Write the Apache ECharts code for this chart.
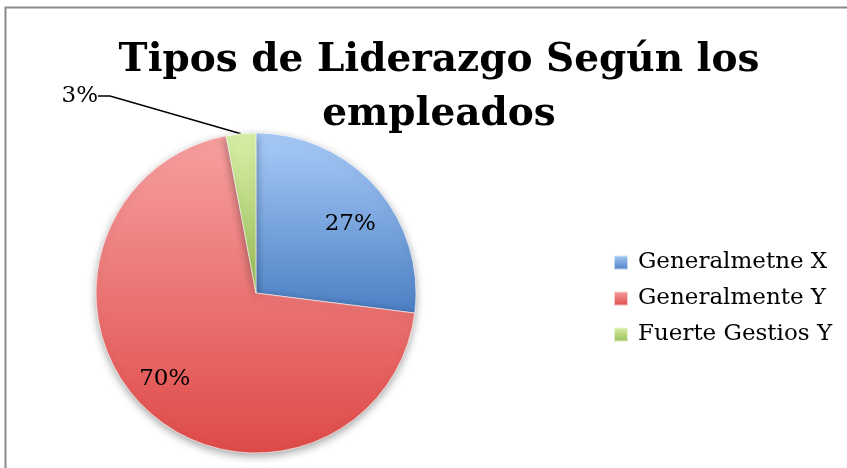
<!DOCTYPE html>
<html>
<head>
<meta charset="utf-8">
<title>Tipos de Liderazgo</title>
<script src="https://cdn.jsdelivr.net/npm/echarts@6/dist/echarts.min.js"></script>
<style>
  html, body { margin: 0; padding: 0; background: #fff; }
  #chart { width: 847px; height: 468px; }
</style>
</head>
<body>
<div id="chart"></div>
<script>
var categories = ['Generalmetne X', 'Generalmente Y', 'Fuerte Gestios Y'];
var values = [27, 70, 3];
var lightColors = ['#a8ccf8', '#f7a0a0', '#d9f0a8'];
var darkColors = ['#4c7fc4', '#de4a48', '#98bd55'];

var chart = echarts.init(document.getElementById('chart'));
var serif = 'DejaVu Serif';

function grad(i) {
  return new echarts.graphic.LinearGradient(0, 0, 0, 1, [
    { offset: 0, color: lightColors[i] },
    { offset: 1, color: darkColors[i] }
  ]);
}

var pieData = categories.map(function (name, i) {
  var item = { name: name, value: values[i], itemStyle: { color: grad(i) } };
  if (i === 2) {
    item.label = { show: true, position: 'outside' };
    item.labelLine = { show: true };
  }
  return item;
});

// label-only ring so inside labels sit at ~3/4 of the radius
var labelData = categories.map(function (name, i) {
  return { name: name, value: values[i], label: { show: i !== 2 } };
});
// small nudges to match where the original placed the inside labels
var labelNudge = [[2, 12], [-7, -4], [0, 0]];

chart.setOption({
  animation: false,
  graphic: [{
    type: 'rect',
    shape: { x: 5.5, y: 7.5, width: 900, height: 500 },
    style: { fill: 'none', stroke: '#8a8a8a', lineWidth: 2 },
    silent: true
  }],
  title: {
    text: 'Tipos de Liderazgo Según los\nempleados',
    left: 434,
    textAlign: 'center',
    top: 29,
    textStyle: {
      fontFamily: serif, fontWeight: 'bold', fontSize: 39,
      lineHeight: 54, color: '#000'
    }
  },
  legend: {
    orient: 'vertical',
    left: 613,
    top: 251,
    padding: 0,
    itemWidth: 14,
    itemHeight: 14,
    itemGap: 13,
    icon: 'rect',
    data: categories,
    textStyle: { fontFamily: serif, fontSize: 23, color: '#000', padding: [0, 0, 0, 5] }
  },
  series: [{
    type: 'pie',
    center: [256, 293],
    radius: [0, 160],
    startAngle: 90,
    clockwise: true,
    data: pieData,
    itemStyle: {
      borderColor: 'rgba(255,255,255,0.6)',
      borderWidth: 1,
      shadowBlur: 8,
      shadowOffsetY: 3,
      shadowColor: 'rgba(0,0,0,0.35)'
    },
    label: {
      show: false,
      formatter: '{c}%',
      fontFamily: serif, fontSize: 23, color: '#000'
    },
    labelLine: {
      length: 20, length2: 12,
      lineStyle: { color: '#000', width: 1.5 }
    },
    labelLayout: function (p) {
      if (p.dataIndex === 2) {
        return { x: 98, y: 96, align: 'right', verticalAlign: 'middle' };
      }
    },
    emphasis: { disabled: true }
  }, {
    type: 'pie',
    center: [256, 293],
    radius: [80, 160],
    startAngle: 90,
    clockwise: true,
    silent: true,
    data: labelData,
    itemStyle: { color: 'rgba(0,0,0,0)' },
    label: {
      position: 'inside',
      formatter: '{c}%',
      fontFamily: serif, fontSize: 23, color: '#000'
    },
    labelLayout: function (p) {
      var n = labelNudge[p.dataIndex];
      return { dx: n[0], dy: n[1] };
    },
    labelLine: { show: false },
    emphasis: { disabled: true }
  }]
});
</script>
</body>
</html>
